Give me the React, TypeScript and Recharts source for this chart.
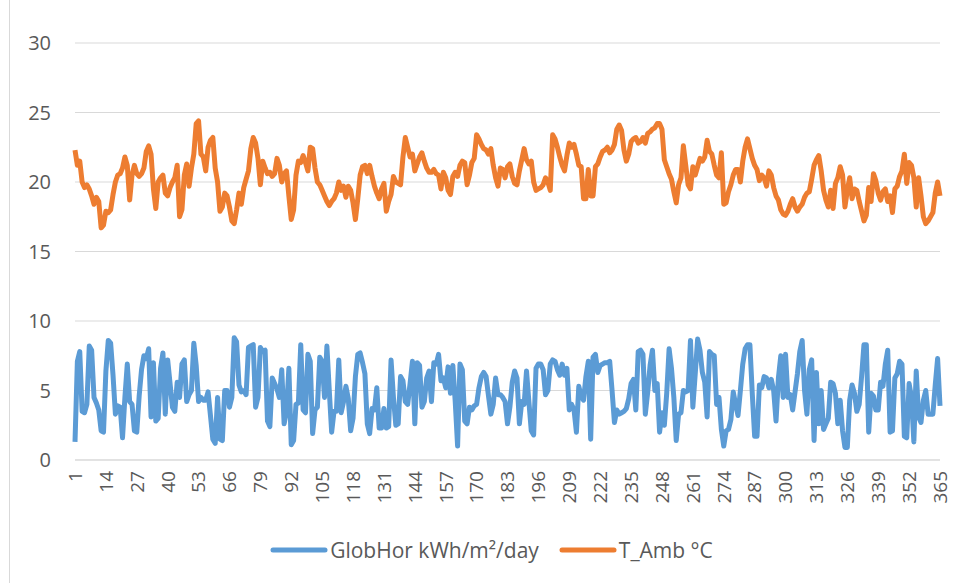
import { LineChart, Line, XAxis, YAxis, CartesianGrid, Legend } from 'recharts';

// daily global horizontal irradiation, kWh/m²/day
const GLOB_HOR = [
  1.3, 7.1, 7.8, 3.5, 3.4, 4.0, 8.2, 7.9, 4.5, 4.1,
  3.6, 2.1, 2.0, 6.4, 8.6, 8.4, 6.1, 3.3, 3.9, 3.8,
  1.6, 4.5, 6.9, 4.2, 4.0, 2.1, 2.0, 4.6, 6.5, 7.5,
  7.3, 8.0, 3.1, 7.0, 2.8, 3.0, 6.6, 7.7, 3.3, 7.2,
  5.5, 3.8, 3.5, 5.6, 4.5, 6.9, 7.2, 4.2, 4.7, 5.0,
  8.4, 6.8, 4.2, 4.5, 4.3, 4.3, 4.9, 3.2, 1.5, 1.2,
  4.5, 1.5, 1.4, 5.0, 5.0, 3.8, 4.5, 8.8, 8.5, 5.4,
  4.9, 5.0, 4.7, 8.1, 8.2, 8.3, 3.8, 4.5, 8.1, 7.8,
  7.9, 2.8, 2.4, 5.9, 5.5, 5.1, 4.5, 6.5, 2.6, 3.5,
  6.6, 1.1, 1.4, 4.0, 4.1, 8.3, 3.6, 3.4, 7.6, 7.1,
  1.9, 3.6, 3.8, 7.4, 7.1, 4.5, 8.2, 5.0, 2.0, 3.5,
  3.5, 7.2, 3.4, 4.2, 5.3, 4.4, 2.1, 3.0, 6.0, 7.6,
  7.7, 7.0, 6.2, 2.6, 1.9, 3.7, 3.6, 5.2, 2.3, 2.3,
  3.7, 2.3, 2.4, 7.2, 4.5, 2.5, 2.6, 6.0, 5.7, 4.2,
  4.0, 5.5, 7.1, 2.6, 7.0, 6.8, 3.8, 4.2, 5.9, 6.4,
  4.2, 7.0, 6.9, 7.6, 5.7, 5.9, 5.2, 6.7, 4.8, 6.8,
  4.2, 1.0, 6.9, 6.5, 2.8, 2.6, 3.8, 3.6, 3.9, 4.0,
  5.2, 6.0, 6.3, 6.0, 4.6, 3.3, 4.0, 5.9, 4.7, 4.7,
  4.5, 4.2, 2.6, 3.8, 5.6, 6.4, 5.9, 2.6, 4.2, 4.0,
  6.4, 4.2, 2.1, 1.8, 6.6, 6.9, 6.9, 6.5, 4.7, 5.0,
  6.9, 7.2, 7.1, 6.5, 6.1, 6.9, 6.1, 6.6, 3.6, 4.0,
  3.6, 2.0, 5.3, 4.6, 4.3, 6.0, 7.1, 1.5, 7.4, 7.6,
  6.3, 6.8, 6.9, 7.0, 7.0, 7.1, 5.0, 2.7, 3.6, 3.3,
  3.4, 3.5, 3.7, 4.4, 5.5, 5.8, 3.6, 7.8, 7.9, 7.6,
  3.3, 4.9, 6.8, 7.9, 5.0, 5.5, 2.0, 3.4, 2.5, 4.8,
  8.0, 6.6, 4.5, 1.4, 3.3, 3.4, 5.0, 4.9, 5.0, 8.6,
  3.8, 6.2, 8.7, 7.9, 6.3, 5.6, 3.1, 7.8, 7.6, 7.5,
  4.0, 4.5, 2.2, 1.0, 2.1, 2.2, 2.9, 4.9, 4.0, 3.2,
  5.0, 6.9, 8.0, 8.3, 8.3, 4.8, 1.7, 1.7, 5.4, 5.2,
  6.0, 5.9, 5.2, 5.8, 5.0, 2.8, 5.9, 7.5, 4.5, 7.6,
  4.5, 4.7, 3.6, 4.9, 6.2, 7.8, 8.6, 5.0, 3.3, 6.5,
  7.2, 1.4, 6.3, 2.6, 5.0, 2.2, 2.6, 3.0, 5.6, 5.5,
  4.8, 2.6, 4.3, 2.1, 0.9, 0.9, 4.3, 5.4, 4.8, 3.5,
  4.0, 6.0, 8.3, 8.3, 2.0, 4.8, 4.6, 3.6, 3.6, 5.6,
  5.3, 6.9, 7.9, 2.0, 2.1, 5.9, 6.2, 7.1, 6.9, 1.7,
  1.6, 5.5, 4.5, 1.3, 6.4, 3.1, 2.7, 4.3, 5.0, 3.3,
  3.3, 3.3, 5.4, 7.3, 3.9,
];

// daily ambient temperature, °C
const T_AMB = [
  22.3, 21.2, 21.5, 20.0, 19.6, 19.8, 19.5, 19.0, 18.4, 18.9,
  18.6, 16.7, 16.9, 17.9, 17.8, 18.0, 19.1, 20.0, 20.5, 20.6,
  21.0, 21.8, 21.2, 18.7, 20.5, 21.2, 20.6, 20.4, 20.6, 21.0,
  22.2, 22.6, 22.0, 19.5, 18.1, 20.0, 20.3, 20.5, 19.2, 19.0,
  19.6, 20.0, 20.3, 21.2, 17.5, 18.0, 20.5, 21.3, 19.7, 21.0,
  22.0, 24.2, 24.4, 22.0, 21.8, 20.8, 22.5, 23.0, 23.2, 21.0,
  20.0, 17.9, 18.2, 19.2, 19.0, 18.2, 17.2, 17.0, 18.0, 19.2,
  18.4, 19.6, 20.2, 20.8, 22.4, 23.2, 22.8, 21.7, 19.8, 21.5,
  21.0, 20.6, 20.7, 20.4, 20.6, 21.7, 21.2, 20.0, 20.6, 20.8,
  19.0, 17.3, 18.0, 20.5, 21.5, 21.4, 21.9, 21.4, 20.8, 22.5,
  22.4, 21.0, 20.0, 19.8, 19.4, 19.0, 18.6, 18.3, 18.6, 18.8,
  19.2, 20.0, 19.4, 19.7, 18.9, 19.7, 19.4, 18.5, 17.3, 18.8,
  20.5, 21.1, 21.2, 20.6, 21.2, 20.4, 19.7, 19.2, 18.8, 19.5,
  19.9, 17.9, 18.6, 19.1, 20.4, 20.0, 19.9, 19.8, 21.8, 23.2,
  22.5, 21.8, 22.0, 20.8, 21.3, 21.8, 22.1, 21.5, 21.0, 20.7,
  20.7, 20.9, 20.6, 20.5, 19.5, 20.7, 20.3, 19.4, 19.1, 20.4,
  20.7, 20.4, 21.2, 21.5, 21.4, 19.8, 20.5, 21.4, 21.7, 23.4,
  23.1, 22.7, 22.4, 22.3, 22.0, 22.4, 21.2, 20.3, 19.7, 21.0,
  20.9, 20.3, 21.1, 21.3, 20.4, 19.9, 19.8, 20.8, 21.6, 22.4,
  21.6, 21.3, 21.5, 20.0, 19.4, 19.5, 19.6, 19.8, 20.3, 20.0,
  19.4, 23.4, 23.1, 22.5, 21.8, 21.2, 20.8, 21.9, 22.8, 22.5,
  22.7, 22.0, 21.2, 21.1, 18.8, 18.8, 20.9, 19.0, 19.0, 21.1,
  21.3, 21.8, 22.2, 22.3, 22.5, 22.1, 22.3, 22.7, 23.8, 24.1,
  23.7, 22.3, 21.5, 22.0, 22.9, 23.1, 23.2, 22.8, 22.9, 23.2,
  22.8, 23.5, 23.6, 23.8, 23.9, 24.2, 24.2, 23.8, 21.6, 21.1,
  20.6, 20.2, 19.3, 18.5, 19.8, 20.3, 22.6, 21.2, 19.8, 19.5,
  21.1, 20.5, 21.1, 21.7, 21.5, 21.8, 23.0, 22.2, 22.0, 21.2,
  20.5, 20.3, 22.1, 18.4, 18.5, 19.3, 19.8, 20.5, 20.9, 20.9,
  20.0, 21.5, 22.5, 23.1, 22.4, 21.7, 21.2, 20.9, 20.1, 20.5,
  20.3, 19.7, 20.8, 20.5, 19.6, 19.0, 18.7, 18.0, 17.7, 17.6,
  17.9, 18.4, 18.8, 18.2, 17.9, 18.2, 18.4, 18.9, 19.2, 19.3,
  20.2, 21.2, 21.6, 21.9, 20.8, 19.4, 18.7, 18.2, 19.4, 18.1,
  19.9, 20.3, 21.1, 20.5, 18.2, 19.4, 20.3, 18.8, 19.5, 19.4,
  18.6, 17.9, 17.2, 17.6, 19.6, 18.6, 20.6, 20.1, 19.2, 18.7,
  19.3, 19.5, 18.6, 19.0, 17.8, 19.5, 19.7, 20.4, 20.8, 22.0,
  19.9, 21.4, 21.2, 20.3, 18.2, 20.3, 19.0, 17.5, 17.0, 17.2,
  17.5, 17.8, 19.2, 20.0, 19.0,
];

const DAYS = GLOB_HOR.map((_, i) => i + 1);
const X_TICKS = [1, 14, 27, 40, 53, 66, 79, 92, 105, 118, 131, 144, 157, 170, 183, 196, 209, 222, 235, 248, 261, 274, 287, 300, 313, 326, 339, 352, 365];
const Y_TICKS = [0, 5, 10, 15, 20, 25, 30];

const FONT = '"Open Sans", sans-serif';
const TEXT = '#595959';
const BLUE = '#5b9bd5';
const ORANGE = '#ed7d31';

const data = DAYS.map((day, i) => ({ day, glob: GLOB_HOR[i], tamb: T_AMB[i] }));

function DayTick({ x, y, payload }: any) {
  return (
    <text
      x={x}
      y={y + 3}
      transform={`rotate(-90, ${x}, ${y + 3})`}
      textAnchor="end"
      dy="0.36em"
      fontSize={19}
      fontFamily={FONT}
      fill={TEXT}
    >
      {payload.value}
    </text>
  );
}

function LegendContent({ payload }: any) {
  return (
    <div style={{ display: 'flex', justifyContent: 'center', gap: 20, paddingTop: 18, marginLeft: 28, fontFamily: FONT, fontSize: 21, color: TEXT }}>
      {(payload || []).map((p: any) => (
        <div key={p.value} style={{ display: 'flex', alignItems: 'center' }}>
          <svg width={58} height={10} style={{ marginRight: 2 }}>
            <line x1={3} y1={5} x2={55} y2={5} stroke={p.color} strokeWidth={5} strokeLinecap="round" />
          </svg>
          <span>{p.value}</span>
        </div>
      ))}
    </div>
  );
}

export default function App() {
  return (
    <div style={{ position: 'fixed', left: 0, top: 0, width: 958, height: 583, background: '#fff' }}>
      <div style={{ position: 'absolute', left: 9, top: -2, width: 960, height: 600, border: '1px solid #d9d9d9', boxSizing: 'border-box' }} />
      <LineChart width={958} height={583} data={data} margin={{ top: 43, right: 18, bottom: 0, left: 15 }}>
        <CartesianGrid vertical={false} stroke="#d9d9d9" strokeWidth={1.2} />
        <XAxis
          dataKey="day"
          type="number"
          domain={[1, 365]}
          ticks={X_TICKS}
          interval={0}
          tick={<DayTick />}
          tickLine={false}
          axisLine={{ stroke: '#d9d9d9' }}
          height={58}
        />
        <YAxis
          domain={[0, 30]}
          ticks={Y_TICKS}
          width={60}
          tickLine={false}
          axisLine={false}
          tickMargin={18}
          tick={{ fontSize: 20, fill: TEXT, fontFamily: FONT }}
        />
        <Legend verticalAlign="bottom" height={65} content={<LegendContent />} />
        <Line
          dataKey="glob"
          name="GlobHor kWh/m²/day"
          stroke={BLUE}
          strokeWidth={5}
          dot={false}
          strokeLinejoin="round"
          isAnimationActive={false}
        />
        <Line
          dataKey="tamb"
          name="T_Amb °C"
          stroke={ORANGE}
          strokeWidth={5}
          dot={false}
          strokeLinejoin="round"
          isAnimationActive={false}
        />
      </LineChart>
    </div>
  );
}
